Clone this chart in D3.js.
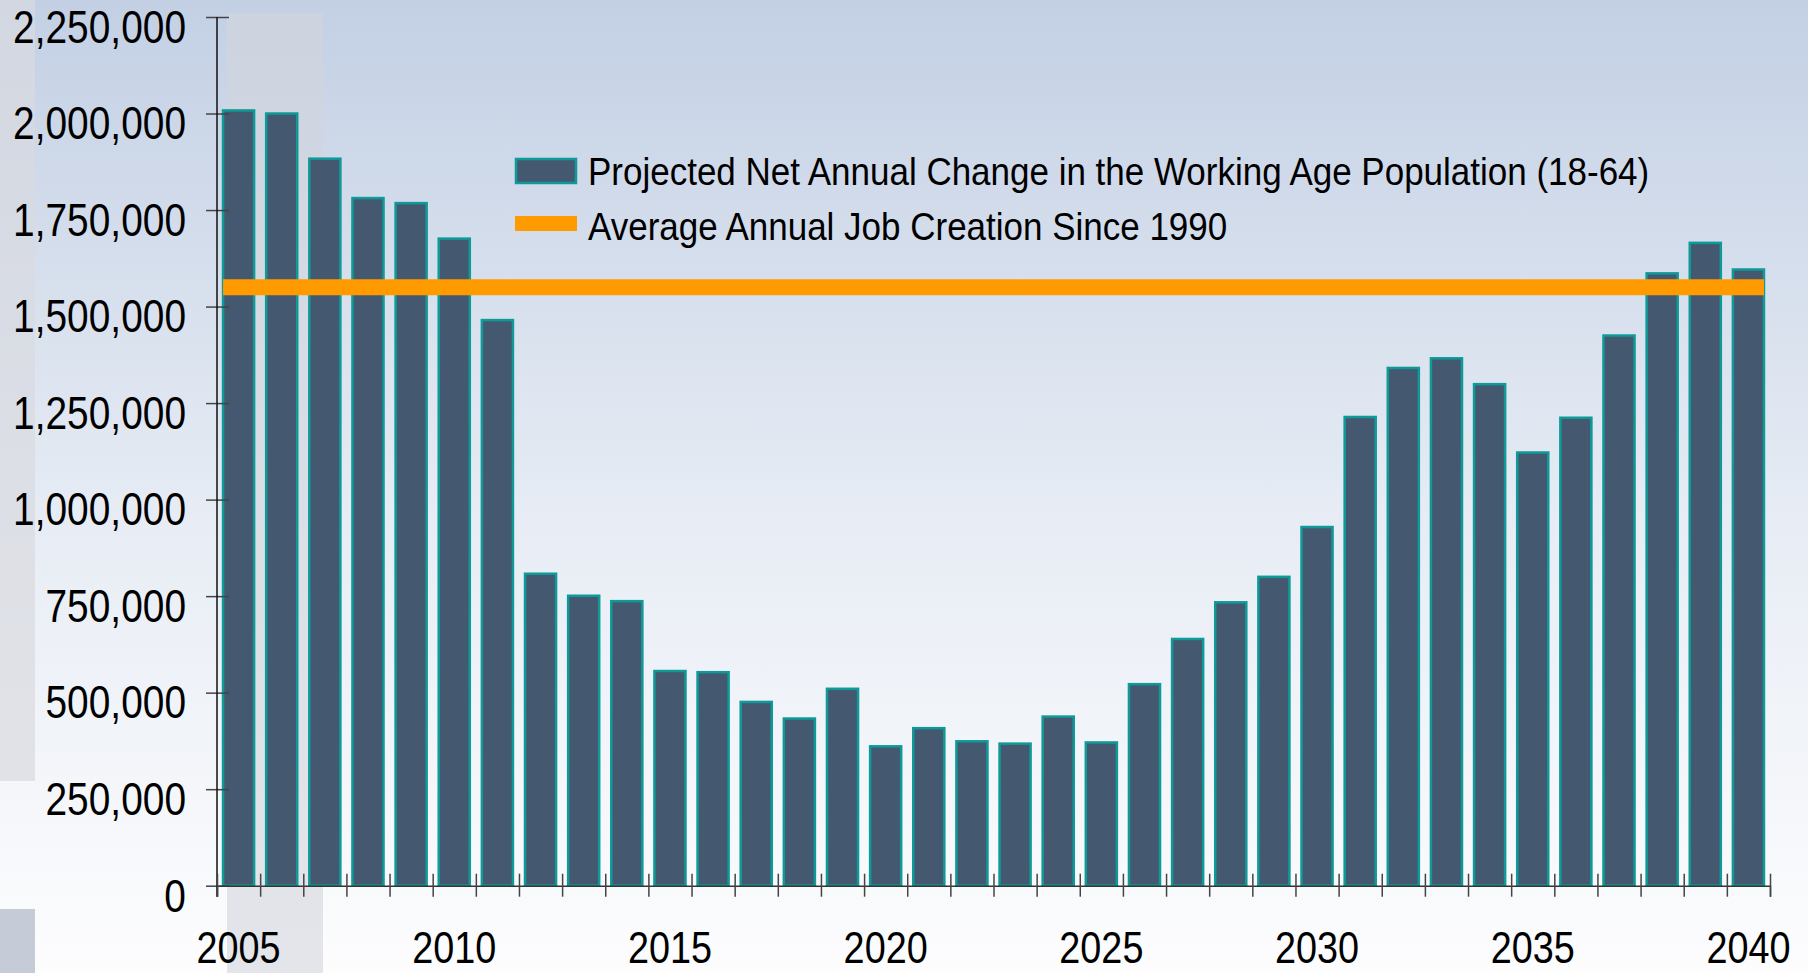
<!DOCTYPE html>
<html>
<head>
<meta charset="utf-8">
<script src="https://cdn.jsdelivr.net/npm/d3@7"></script>
<style>
  body { margin: 0; padding: 0; overflow: hidden; }
  text { font-family: "Liberation Sans", Arial, sans-serif; }
</style>
</head>
<body>
<script>
// Data
var years = d3.range(2005, 2041);
var workingAgeChange = [
  2008000, 2000000, 1883000, 1781000, 1768000, 1676000, 1465000,
  808000, 751000, 737000, 556000, 553000, 476000, 433000, 510000,
  361000, 408000, 374000, 368000, 438000, 371000, 522000, 639000,
  734000, 800000, 929000, 1214000, 1341000, 1366000, 1299000,
  1122000, 1212000, 1425000, 1586000, 1665000, 1596000
];
var avgJobCreation = 1550000;
var yTicks = [0, 250000, 500000, 750000, 1000000, 1250000, 1500000, 1750000, 2000000, 2250000];
var xLabelYears = [2005, 2010, 2015, 2020, 2025, 2030, 2035, 2040];
var legendLabels = [
  "Projected Net Annual Change in the Working Age Population (18-64)",
  "Average Annual Job Creation Since 1990"
];

var W = 1808, H = 973;
var margin = {left: 217, right: 1770, top: 17, bottom: 885.7};

var svg = d3.select("body").append("svg")
    .attr("width", W)
    .attr("height", H);

// squeeze a text horizontally so it looks condensed
function condense(sel, k) {
  sel.each(function() {
    var len = this.getComputedTextLength();
    d3.select(this)
      .attr("textLength", len * k)
      .attr("lengthAdjust", "spacingAndGlyphs");
  });
}

// background gradient
var defs = svg.append("defs");
var grad = defs.append("linearGradient")
    .attr("id", "bg")
    .attr("x1", 0).attr("y1", 0).attr("x2", 0).attr("y2", 1);
grad.append("stop").attr("offset", "0%").attr("stop-color", "#c3d0e4");
grad.append("stop").attr("offset", "55%").attr("stop-color", "#e8edf5");
grad.append("stop").attr("offset", "100%").attr("stop-color", "#fdfdfe");

svg.append("rect")
    .attr("width", W).attr("height", H)
    .attr("fill", "url(#bg)");

// decorative grey panels
svg.append("rect")
    .attr("x", 0).attr("y", 0).attr("width", 35).attr("height", 781)
    .attr("fill", "#d8dadf").attr("fill-opacity", 0.7);
svg.append("rect")
    .attr("x", 0).attr("y", 909).attr("width", 35).attr("height", 64)
    .attr("fill", "#c6ccd7");
svg.append("rect")
    .attr("x", 227).attr("y", 13).attr("width", 96).attr("height", 960)
    .attr("fill", "#d2d5dc").attr("fill-opacity", 0.6);

// scales
var x = d3.scaleBand()
    .domain(years)
    .range([margin.left, margin.right])
    .paddingInner(0.28)
    .paddingOuter(0.14);

var xEdge = d3.scaleLinear()
    .domain([0, years.length])
    .range([margin.left, margin.right]);

var y = d3.scaleLinear()
    .domain([0, 2250000])
    .range([margin.bottom, margin.top]);

// bars
svg.append("g")
    .selectAll("rect")
    .data(years)
    .enter().append("rect")
        .attr("x", function(d) { return x(d); })
        .attr("width", x.bandwidth())
        .attr("y", function(d, i) { return y(workingAgeChange[i]); })
        .attr("height", function(d, i) { return margin.bottom - y(workingAgeChange[i]); })
        .attr("fill", "#44596f")
        .attr("stroke", "#0e9a98")
        .attr("stroke-width", 2.5);

// Y axis
var yAxis = d3.axisLeft(y)
    .tickValues(yTicks)
    .tickFormat(d3.format(","))
    .tickSizeOuter(0)
    .tickPadding(25);

var gy = svg.append("g")
    .attr("transform", "translate(" + margin.left + ",0)")
    .call(yAxis);
gy.select(".domain").remove();
gy.selectAll(".tick line")
    .attr("x1", 12).attr("x2", -11)
    .attr("stroke", "#444").attr("stroke-width", 1.5);
gy.selectAll(".tick text")
    .attr("dy", "0.55em")
    .attr("fill", "#000")
    .style("font-family", "'Liberation Sans', Arial, sans-serif")
    .style("font-size", "46px")
    .call(condense, 0.845);
svg.append("line")
    .attr("x1", margin.left).attr("x2", margin.left)
    .attr("y1", margin.top).attr("y2", margin.bottom + 11)
    .attr("stroke", "#111").attr("stroke-width", 1.5);

// X axis (tick marks at band edges)
var xAxis = d3.axisBottom(xEdge)
    .tickValues(d3.range(years.length + 1))
    .tickFormat("")
    .tickSizeOuter(0)
    .tickSize(11);
var gx = svg.append("g")
    .attr("transform", "translate(0," + margin.bottom + ")")
    .call(xAxis);
gx.select(".domain").attr("stroke", "#333").attr("stroke-width", 1.5);
gx.selectAll(".tick line")
    .attr("y1", -12)
    .attr("stroke", "#444").attr("stroke-width", 1.5);

// X labels
var xLabels = d3.axisBottom(x)
    .tickValues(xLabelYears)
    .tickSize(0)
    .tickPadding(45);
var gxl = svg.append("g")
    .attr("transform", "translate(0," + margin.bottom + ")")
    .call(xLabels);
gxl.select(".domain").remove();
gxl.selectAll(".tick text")
    .attr("fill", "#000")
    .style("font-family", "'Liberation Sans', Arial, sans-serif")
    .style("font-size", "45px")
    .call(condense, 0.84);

// average job creation line
svg.append("line")
    .attr("x1", x(years[0]))
    .attr("x2", x(years[years.length - 1]) + x.bandwidth())
    .attr("y1", y(avgJobCreation))
    .attr("y2", y(avgJobCreation))
    .attr("stroke", "#ff9b00")
    .attr("stroke-width", 16);

// legend
var legend = svg.append("g");
legend.append("rect")
    .attr("x", 516).attr("y", 159).attr("width", 60).attr("height", 24)
    .attr("fill", "#44596f").attr("stroke", "#0e9a98").attr("stroke-width", 2.5);
legend.append("rect")
    .attr("x", 515).attr("y", 216).attr("width", 62).attr("height", 15)
    .attr("fill", "#ff9b00");
legend.selectAll("text")
    .data(legendLabels)
    .enter().append("text")
        .attr("x", 588)
        .attr("y", function(d, i) { return 185 + i * 55; })
        .attr("fill", "#000")
        .style("font-size", "39px")
        .text(function(d) { return d; })
        .call(condense, 0.897);
</script>
</body>
</html>
